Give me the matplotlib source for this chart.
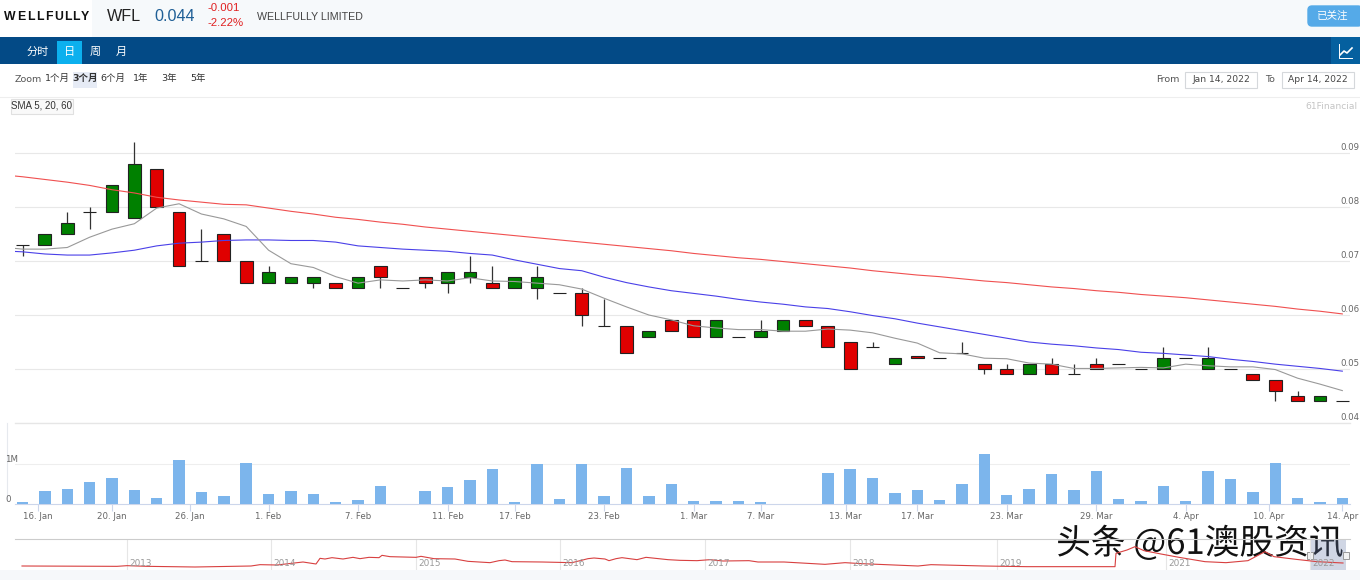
import numpy as np
import matplotlib
matplotlib.use('Agg')
from matplotlib import pyplot as plt
from matplotlib.patches import Rectangle, FancyBboxPatch
import matplotlib.patheffects as pe

plt.rcParams['font.family'] = ['DejaVu Sans', 'Noto Sans CJK SC']

# daily candles, 14 Jan - 14 Apr 2022
opens = [.073, .073, .075, .079, .079, .078, .087, .079, .070, .075,
         .070, .066, .066, .066, .066, .065, .069, .065, .067, .066,
         .067, .066, .065, .065, .064, .064, .058, .058, .056, .059,
         .059, .056, .056, .056, .057, .059, .058, .055, .054, .051,
         .0525, .052, .053, .051, .050, .049, .051, .049, .051, .051,
         .050, .050, .052, .050, .050, .049, .048, .045, .044, .044]
highs = [.073, .075, .079, .080, .084, .092, .087, .079, .076, .075,
         .070, .069, .067, .067, .066, .067, .069, .065, .067, .068,
         .071, .069, .067, .069, .064, .065, .063, .058, .057, .059,
         .059, .059, .056, .059, .059, .059, .058, .055, .055, .052,
         .0525, .052, .055, .051, .051, .051, .052, .051, .052, .051,
         .050, .054, .052, .054, .050, .049, .048, .046, .045, .044]
lows = [.071, .073, .075, .076, .079, .078, .080, .069, .070, .070,
        .066, .066, .066, .065, .065, .065, .065, .065, .065, .064,
        .066, .065, .065, .063, .064, .058, .058, .053, .056, .057,
        .056, .056, .056, .056, .057, .058, .054, .050, .054, .051,
        .052, .052, .053, .049, .049, .049, .049, .049, .050, .051,
        .050, .050, .052, .050, .050, .048, .044, .044, .044, .044]
closes = [.073, .075, .077, .079, .084, .088, .080, .069, .070, .070,
          .066, .068, .067, .067, .065, .067, .067, .065, .066, .068,
          .068, .065, .067, .067, .064, .060, .058, .053, .057, .057,
          .056, .059, .056, .057, .059, .058, .054, .050, .054, .052,
          .052, .052, .053, .050, .049, .051, .049, .049, .050, .051,
          .050, .052, .052, .052, .050, .048, .046, .044, .045, .044]

# moving averages, first value is the day before the visible range
sma5 = [.0726, .0722, .0722, .0725, .0744, .0759, .0769, .0798, .0806, .0787,
        .0778, .0764, .0720, .0695, .0688, .0671, .0659, .0665, .0663, .0665,
        .0663, .0669, .0663, .0662, .0659, .0656, .0648, .0631, .0615, .0600,
        .0591, .0580, .0576, .0573, .0573, .0570, .0570, .0574, .0572, .0567,
        .0557, .0548, .0530, .0528, .0520, .0519, .0511, .0509, .0501, .0501,
        .0502, .0503, .0502, .0509, .0506, .0504, .0504, .0499, .0483, .0472,
        .0460]
sma20 = [.0719, .0717, .0713, .0711, .0711, .0715, .0720, .0728, .0733, .0735,
         .0738, .0739, .0739, .0738, .0738, .0735, .0728, .0725, .0722, .0720,
         .0718, .0714, .0711, .0702, .0694, .0686, .0682, .0670, .0660, .0652,
         .0645, .0640, .0635, .0629, .0624, .0620, .0615, .0612, .0606, .0599,
         .0593, .0585, .0578, .0571, .0564, .0557, .0550, .0546, .0543, .0539,
         .0536, .0531, .0529, .0526, .0523, .0518, .0514, .0509, .0505, .0501,
         .0496]
sma60 = [.0860, .0856, .0851, .0846, .0840, .0832, .0826, .0818, .0813, .0809,
         .0805, .0804, .0798, .0792, .0787, .0781, .0777, .0772, .0768, .0763,
         .0759, .0755, .0751, .0747, .0743, .0739, .0735, .0731, .0727, .0723,
         .0719, .0714, .0710, .0706, .0703, .0699, .0695, .0691, .0687, .0682,
         .0678, .0674, .0671, .0667, .0663, .0660, .0656, .0652, .0649, .0645,
         .0642, .0638, .0635, .0632, .0628, .0624, .0620, .0616, .0611, .0607,
         .0602]

# volume in millions
volumes = [.06, .32, .38, .54, .64, .36, .16, 1.10, .31, .20,
           1.02, .25, .32, .25, .04, .10, .44, 0, .32, .42,
           .60, .87, .04, 1.00, .12, 1.00, .19, .89, .19, .50,
           .08, .08, .08, .06, 0, 0, .77, .88, .65, .27,
           .35, .11, .50, 1.26, .23, .37, .74, .35, .82, .12,
           .08, .45, .08, .82, .63, .29, 1.02, .16, .04, .14]

date_ticks = [0.7, 4, 7.5, 11, 15, 19, 22, 26, 30, 33, 36.8, 40, 44, 48, 52, 55.7, 59]
date_labels = ['16. Jan', '20. Jan', '26. Jan', '1. Feb', '7. Feb', '11. Feb', '17. Feb', '23. Feb',
               '1. Mar', '7. Mar', '13. Mar', '17. Mar', '23. Mar', '29. Mar', '4. Apr', '10. Apr', '14. Apr']
price_ticks = [0.04, 0.05, 0.06, 0.07, 0.08, 0.09]

# navigator, long history
nav_pos = [22, 117, 127, 147, 195, 251, 260, 277, 303, 316, 320, 325, 332, 343, 353, 360, 369, 379, 382, 390,
           416, 421, 434, 455, 468, 490, 499, 505, 512, 542, 572, 588, 594, 605, 609, 616, 622, 637, 646, 668,
           680, 697, 710, 723, 749, 758, 784, 825, 845, 862, 918, 931, 984, 1027, 1115, 1116, 1127, 1135, 1144,
           1161, 1179, 1205, 1226, 1248, 1265, 1274, 1296, 1317, 1343]
nav_vals = [12, 11, 13, 11, 9, 12, 16, 15, 24, 18, 35, 33, 37, 33, 38, 34, 38, 37, 44, 40,
            38, 41, 34, 33, 26, 22, 28, 30, 25, 24, 22, 34, 36, 33, 28, 34, 37, 31, 38, 31,
            29, 28, 31, 27, 28, 24, 24, 17, 22, 19, 12, 16, 12, 10, 10, 50, 60, 70, 58,
            48, 38, 25, 22, 28, 55, 40, 32, 25, 21]
nav_year_pos = [127, 271, 416, 560, 705, 850, 997, 1166, 1310]
nav_years = ['2013', '2014', '2015', '2016', '2017', '2018', '2019', '2021', '2022']

W, H = 1360, 580
fig = plt.figure(figsize=(W / 100, H / 100), dpi=100, facecolor='white')


def add_px_axes(left, top, right, bottom, **kw):
    ax = fig.add_axes([left / W, 1 - bottom / H, (right - left) / W, (bottom - top) / H], **kw)
    ax.patch.set_alpha(0)
    for s in ax.spines.values():
        s.set_visible(False)
    return ax


# page furniture in pixel coords
bg = add_px_axes(0, 0, W, H)
bg.set_xlim(0, W)
bg.set_ylim(H, 0)
bg.axis('off')
bg.add_patch(Rectangle((92, 0), W - 92, 37, fc='#f6f9fb', ec='none'))
bg.add_patch(Rectangle((0, 37), W, 27, fc='#034a86', ec='none'))
bg.add_patch(Rectangle((57, 41), 25, 23, fc='#0cb0ee', ec='none'))
bg.add_patch(Rectangle((1331, 37), 29, 27, fc='#05609f', ec='none'))
bg.add_patch(Rectangle((0, 570), W, 10, fc='#f6f8fa', ec='none'))
bg.add_patch(FancyBboxPatch((1308, 6), 54, 20, boxstyle='round,pad=0,rounding_size=4', fc='#55aae8', ec='#55aae8', lw=1))
bg.plot([1339, 1339, 1352], [44, 58, 58], color='white', lw=0.7)
bg.plot([1340, 1344, 1347, 1352], [55, 51, 53, 48], color='white', lw=1.2)

sans = ['Liberation Sans', 'Noto Sans CJK SC']
# logo is letter spaced
for x, ch in zip([4, 17.5, 27.5, 36.5, 45.5, 54, 64.5, 72.5, 80.5], 'WELLFULLY'):
    bg.text(x, 16.5, ch, fontsize=8.8, fontweight='bold', family=sans, color='#111111', va='center')
bg.text(107, 16.5, 'WFL', fontsize=11.6, family=sans, color='#222222', va='center')
bg.text(154, 16.5, '0.044', fontsize=11.6, family=sans, color='#1f5f96', va='center')
bg.text(208, 8, '-0.001', fontsize=8.2, family=sans, color='#e02020', va='center')
bg.text(208, 23, '-2.22%', fontsize=8.2, family=sans, color='#e02020', va='center')
bg.text(257, 17.5, 'WELLFULLY LIMITED', fontsize=7.7, family=sans, color='#444444', va='center')
bg.text(1333, 15.5, '已关注', fontsize=7.6, family=sans, color='white', ha='center', va='center')
for x, s in zip([38, 69.5, 95, 121.5], ['分时', '日', '周', '月']):
    bg.text(x, 51.5, s, fontsize=8, family=sans, color='white', ha='center', va='center')

grey_txt = '#555555'
bg.text(15, 79.5, 'Zoom', fontsize=6.8, color=grey_txt, va='center')
bg.add_patch(Rectangle((73, 72), 24, 16, fc='#e6ebf5', ec='none'))
for x, s, w in zip([57, 85, 113, 141, 169.5, 198], ['1个月', '3个月', '6个月', '1年', '3年', '5年'],
                   ['normal', 'bold', 'normal', 'normal', 'normal', 'normal']):
    bg.text(x, 78.5, s, fontsize=6.8, color='#333333', fontweight=w, ha='center', va='center')
bg.text(1156, 79, 'From', fontsize=6.8, color=grey_txt, va='center')
bg.text(1265, 79, 'To', fontsize=6.8, color=grey_txt, va='center')
for x, w, s in zip([1185, 1282], [72, 72], ['Jan 14, 2022', 'Apr 14, 2022']):
    bg.add_patch(Rectangle((x, 71.5), w, 16, fc='white', ec='#d5d8db', lw=0.8))
    bg.text(x + w / 2, 79, s, fontsize=6.6, color='#444444', ha='center', va='center')
bg.plot([0, W], [97, 97], color='#eeeeee', lw=0.8)
bg.add_patch(Rectangle((10.5, 98.5), 62, 15, fc='#f9f9f9', ec='#e0e0e0', lw=0.8))
bg.text(41.5, 105.5, 'SMA 5, 20, 60', fontsize=7, family=sans, color='#333333', ha='center', va='center')
bg.text(1358, 106.5, '61Financial', fontsize=6.6, color='#c4c4c4', ha='right', va='center')
bg.plot([7, 7], [423, 500], color='#e6e9ee', lw=0.8)

# candles
x_left = (15 - 22.5) / 22.37
x_right = (1350 - 22.5) / 22.37
idx = np.arange(len(opens))
ax = add_px_axes(15, 97, 1350, 423)
ax.set_xlim(x_left, x_right)
ax.set_ylim(0.04, 0.04 + 326 / 5400)
ax.set_yticks(price_ticks)
ax.set_xticks([])
ax.grid(axis='y', color='#e8e8e8', lw=0.8)
ax.set_axisbelow(True)
ax.tick_params(axis='y', length=0, labelleft=False)
ax.vlines(idx, lows, highs, color='#333333', lw=0.9, zorder=2)
o = np.array(opens)
c = np.array(closes)
colors = ['#008000' if b >= a else '#e00000' for a, b in zip(o, c)]
ax.bar(idx, c - o, bottom=o, width=0.57, color=colors, edgecolor='#222222', linewidth=0.8, zorder=3)
ma_x = np.arange(-1, 60)
ax.plot(ma_x, sma60, color='#f05050', lw=0.8, zorder=4)
ax.plot(ma_x, sma20, color='#4a40e8', lw=0.8, zorder=4)
ax.plot(ma_x, sma5, color='#999999', lw=0.8, zorder=4)
for p in price_ticks:
    ax.annotate(f'{p:.2f}', xy=(1, p), xycoords=('axes fraction', 'data'), xytext=(-7.2, 1), textcoords='offset points',
                fontsize=6.2, color='#666666', va='bottom', ha='left', annotation_clip=False)

# volume
vol = add_px_axes(15, 423, 1350, 504)
vol.set_xlim(x_left, x_right)
vol.set_ylim(0, 81 / 40)
vol.set_yticks([1])
vol.grid(axis='y', color='#eeeeee', lw=0.8)
vol.set_axisbelow(True)
vol.tick_params(axis='y', length=0, labelleft=False)
vol.bar(idx, volumes, width=0.51, color='#7cb5ec', zorder=3)
vol.spines['bottom'].set_visible(True)
vol.spines['bottom'].set_color('#ccd6eb')
vol.set_xticks(date_ticks)
vol.set_xticklabels(date_labels, fontsize=6.2, color='#666666')
vol.tick_params(axis='x', length=5, width=0.8, color='#ccd6eb', pad=1)
bg.text(12, 459, '1M', fontsize=6.2, color='#666666', ha='center', va='center')
bg.text(8, 500, '0', fontsize=6.2, color='#666666', ha='center', va='center')
bg.plot([15, 1350], [423, 423], color='#e6e6e6', lw=1)

# navigator
nav = add_px_axes(0, 539, W, 570)
nav.set_xlim(0, W)
nav.set_ylim(0, 93)
nav.set_yticks([])
nav.set_xticks([])
nav.vlines(nav_year_pos, 0, 93, color='#e6e6e6', lw=0.8)
for p, y in zip(nav_year_pos, nav_years):
    nav.text(p + 2, 21, y, fontsize=6.4, color='#999999', ha='left', va='center')
nav.plot(nav_pos, nav_vals, color='#d84040', lw=0.8)
nav.plot([15, 1350], [93, 93], color='#cccccc', lw=0.8, clip_on=False)
nav.add_patch(Rectangle((1310, 0), 36, 93, fc='#667aa8', alpha=0.3, ec='none'))
for hx in [1310, 1346]:
    nav.add_patch(Rectangle((hx - 3, 32), 6, 22, fc='#f2f2f2', ec='#999999', lw=0.7))

# watermark
bg.text(1200, 544, '头条 @61澳股资讯', fontsize=25, family=['Noto Sans CJK SC'], fontweight='light', color='#111111',
        ha='center', va='center', zorder=10, path_effects=[pe.withStroke(linewidth=2.5, foreground='white')])

fig.savefig('out.png', dpi=100, facecolor='white')
